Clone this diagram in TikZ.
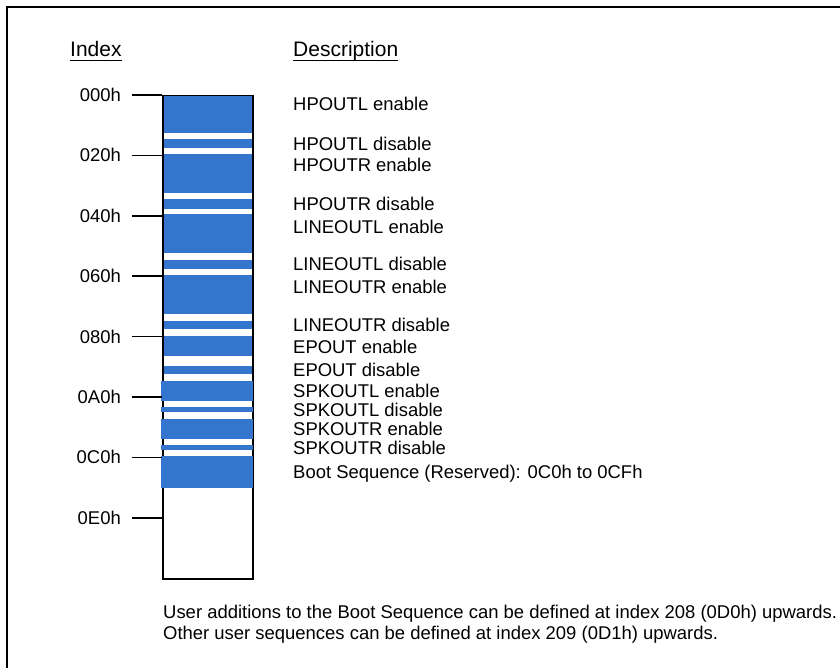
\documentclass[tikz,border=0pt]{standalone}
\usepackage{fontspec}
\setmainfont{Liberation Sans}
\definecolor{seqblue}{RGB}{52,117,206}
\begin{document}
\begin{tikzpicture}[x=1pt,y=-1pt,
  txt/.style={inner sep=0pt,font=\fontsize{18.45}{21}\selectfont},
  hdr/.style={inner sep=0pt,font=\fontsize{21}{25}\selectfont},
  tick/.style={line width=1.5pt}]
  \useasboundingbox (0,0) rectangle (840,668);
  \clip (0,0) rectangle (840,668);
  \draw[line width=2pt] (7,7) rectangle (860,690);
  \node[hdr,anchor=base west] (hidx) at (70,56.5) {Index};
  \node[hdr,anchor=base west] (hdesc) at (293,56.5) {Description};
  \draw[line width=1pt] ([yshift=-4pt]hidx.base west)--([yshift=-4pt]hidx.base east);
  \draw[line width=1pt] ([yshift=-4pt]hdesc.base west)--([yshift=-4pt]hdesc.base east);
  \foreach \a/\b in {95/132.7,139.3/148.3,154/193.3,199.3/208.7,214.3/253.3,260/269,275/314,320.7/329.3,335.7/355.7,365.7/374.3}
    \fill[seqblue] (162,\a) rectangle (252,\b);
  \node[draw,line width=1.5pt,inner sep=0pt,minimum width=90pt,minimum height=483pt,anchor=north west] (bar) at (162,95) {};
  \foreach \a/\b in {380.7/401,406.7/412.3,418.7/439,445/450,455.7/487.7}
    \fill[seqblue] (161,\a) rectangle (253,\b);
  \foreach \lbl [count=\i from 0] in {000h,020h,040h,060h,080h,0A0h,0C0h,0E0h} {
    \node[txt,anchor=east] (ix\i) at (121,95+60.4*\i) {\lbl};
    \draw[tick] ([xshift=10.5pt]ix\i.east) -- (ix\i.east -| bar.west);
  }
  \foreach \y/\t [count=\k] in {110.5/HPOUTL enable,150.5/HPOUTL disable,171.5/HPOUTR enable,
      210.5/HPOUTR disable,233.5/LINEOUTL enable,270.5/LINEOUTL disable,293.5/LINEOUTR enable,
      331.5/LINEOUTR disable,353.5/EPOUT enable,376.5/EPOUT disable,397.5/SPKOUTL enable,
      416.5/SPKOUTL disable,435.5/SPKOUTR enable,454.5/SPKOUTR disable,
      478.5/Boot Sequence (Reserved): 0C0h to 0CFh}
    \node[txt,anchor=base west] (d\k) at (293,\y) {\t};
  \node[txt,anchor=base west] (note1) at (163,618.5) {User additions to the Boot Sequence can be defined at index 208 (0D0h) upwards.};
  \node[txt,anchor=base west] (note2) at (163,639.5) {Other user sequences can be defined at index 209 (0D1h) upwards.};
\end{tikzpicture}
\end{document}
